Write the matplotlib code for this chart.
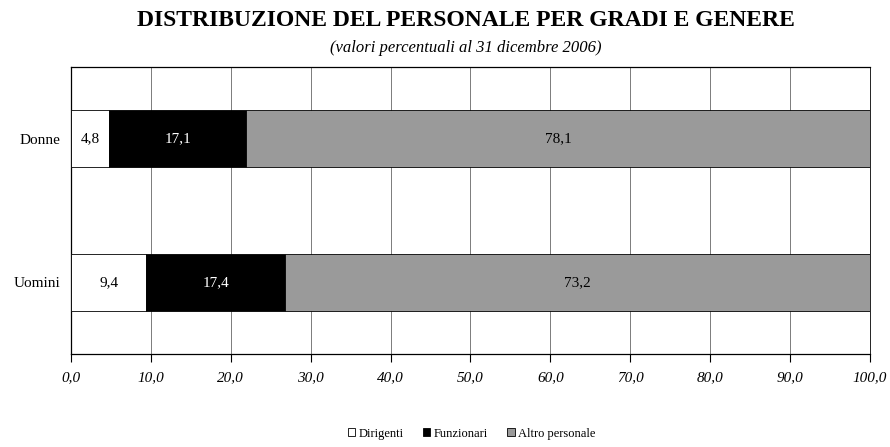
import matplotlib.pyplot as plt
from matplotlib.ticker import FuncFormatter

categories = ['Uomini', 'Donne']
dirigenti = [9.4, 4.8]
funzionari = [17.4, 17.1]
altro = [73.2, 78.1]
series_names = ['Dirigenti', 'Funzionari', 'Altro personale']

plt.rcParams['font.family'] = ['Liberation Serif', 'DejaVu Serif']

fig = plt.figure(figsize=(8.9, 4.47), dpi=100)
ax = fig.add_axes([0.0798, 0.208, 0.8977, 0.642])

colors = ['white', 'black', '#9a9a9a']
text_colors = ['black', 'white', 'black']
left = [0, 0]
for vals, name, col, tcol in zip([dirigenti, funzionari, altro], series_names, colors, text_colors):
    bars = ax.barh(categories, vals, left=left, height=0.4, color=col,
                   edgecolor='black', linewidth=0.6, label=name, zorder=3)
    for b, v in zip(bars, vals):
        ax.text(b.get_x() + b.get_width() / 2, b.get_y() + b.get_height() / 2,
                f'{v:.1f}'.replace('.', ','), ha='center', va='center',
                color=tcol, fontsize=11, zorder=4)
    left = [l + v for l, v in zip(left, vals)]

ax.set_xlim(0, 100)
ax.set_ylim(-0.5, 1.5)
ax.set_xticks(range(0, 101, 10))
ax.xaxis.set_major_formatter(FuncFormatter(lambda x, p: f'{x:.1f}'.replace('.', ',')))
for lab in ax.get_xticklabels():
    lab.set_fontstyle('italic')
ax.tick_params(axis='x', direction='out', length=6, width=0.8, labelsize=11, pad=6)
ax.tick_params(axis='y', length=0, labelsize=11, pad=8)
ax.grid(axis='x', color='#666666', linewidth=0.6, zorder=0)

for s in ['top', 'left', 'bottom']:
    ax.spines[s].set_linewidth(0.9)
ax.spines['right'].set_linewidth(0.6)

fig.text(0.523, 0.955, 'DISTRIBUZIONE DEL PERSONALE PER GRADI E GENERE',
         ha='center', va='center', fontsize=17, fontweight='bold')
fig.text(0.523, 0.893, '(valori percentuali al 31 dicembre 2006)',
         ha='center', va='center', fontsize=12, fontstyle='italic')

fig.legend(loc='center', bbox_to_anchor=(0.53, 0.03), ncol=3, frameon=False,
           fontsize=9, handlelength=0.6, handleheight=0.6, handletextpad=0.3,
           columnspacing=1.5, borderpad=0)

plt.savefig('out.png', dpi=100)
